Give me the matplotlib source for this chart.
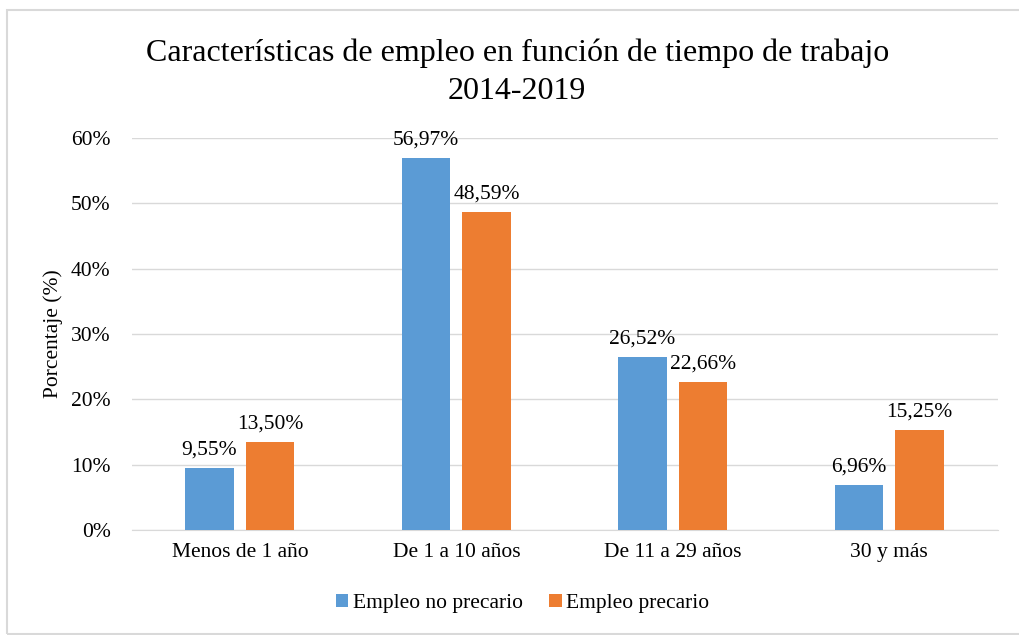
import numpy as np
import matplotlib.pyplot as plt
from matplotlib.patches import Rectangle

categorias = ["Menos de 1 año", "De 1 a 10 años", "De 11 a 29 años", "30 y más"]
no_precario = [9.55, 56.97, 26.52, 6.96]
precario = [13.50, 48.59, 22.66, 15.25]
yticks = [0, 10, 20, 30, 40, 50, 60]

plt.rcParams['font.family'] = ['Liberation Serif', 'DejaVu Serif']
fs = 15.5

fig = plt.figure(figsize=(10.2, 6.35), dpi=100)
ax = fig.add_axes([0.129, 0.165, 0.849, 0.618])

x = np.arange(len(categorias))
w = 0.225
b1 = ax.bar(x - 0.14, no_precario, w, color='#5b9bd5', label='Empleo no precario', zorder=3)
b2 = ax.bar(x + 0.14, precario, w, color='#ed7d31', label='Empleo precario', zorder=3)

for bars, vals in [(b1, no_precario), (b2, precario)]:
    for r, v in zip(bars, vals):
        ax.text(r.get_x() + r.get_width() / 2, v + 1.3, f"{v:.2f}%".replace('.', ','),
                ha='center', va='bottom', fontsize=fs)

ax.set_xlim(-0.5, 3.5)
ax.set_ylim(0, 60)
ax.set_yticks(yticks)
ax.set_yticklabels([f"{t}%" for t in yticks], fontsize=fs)
ax.set_xticks(x)
ax.set_xticklabels(categorias, fontsize=fs)
ax.tick_params(length=0, pad=9)
ax.tick_params(axis='y', pad=15)
ax.grid(axis='y', color='#d9d9d9', linewidth=1, zorder=0)
for s in ['top', 'right', 'left']:
    ax.spines[s].set_visible(False)
ax.spines['bottom'].set_color('#d9d9d9')
ax.set_ylabel("Porcentaje (%)", fontsize=fs, labelpad=6)

fig.text(0.507, 0.886, "Características de empleo en función de tiempo de trabajo\n2014-2019",
         ha='center', va='center', fontsize=23, linespacing=1.4)

fig.legend(loc='center', bbox_to_anchor=(0.512, 0.05), ncol=2, frameon=False,
           fontsize=fs, handlelength=0.6, handleheight=0.6, handletextpad=0.2, columnspacing=1.2)

fig.patches.append(Rectangle((7 / 1020, 1 - 634 / 635), 1.1, 624 / 635, transform=fig.transFigure,
                             fill=False, edgecolor='#d9d9d9', linewidth=1.5))

fig.savefig("out.png", dpi=100)
